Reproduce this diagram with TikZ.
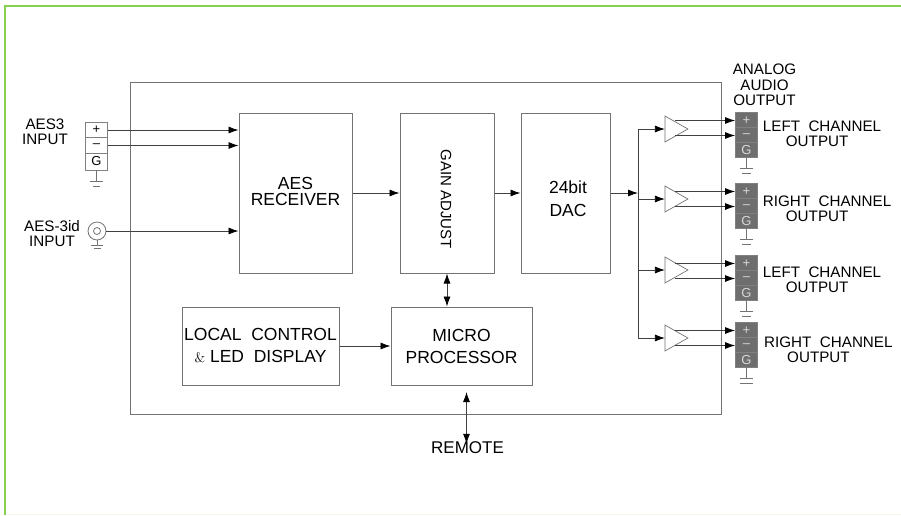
\documentclass[tikz,border=0pt]{standalone}
\usepackage{fontspec}
\setmainfont{Liberation Sans}
\usetikzlibrary{arrows.meta,shapes.geometric}
\definecolor{framegreen}{HTML}{86CF50}
\definecolor{termgray}{HTML}{6E6E6E}
\tikzset{
	blockbox/.style={draw=black!55,line width=1pt,minimum width=#1,inner sep=0pt,align=center},
	cell/.style={draw=black!50,line width=0.9pt,minimum width=22pt,minimum height=15.5pt,inner sep=0pt,font=\fontsize{13}{13}\selectfont},
	outcell/.style={cell,fill=termgray,text=white!85!black},
	amp/.style={draw=black!55,fill=white,line width=0.7pt,isosceles triangle,isosceles triangle apex angle=59,minimum height=23pt,minimum width=26pt,inner sep=0pt,outer sep=0pt},
	conn/.style={draw=black!75,line width=0.8pt},
	arr/.style={conn,-{Latex[length=10pt,width=7pt,black]}},
	biarr/.style={conn,{Latex[length=10pt,width=7pt,black]}-{Latex[length=10pt,width=7pt,black]}},
	gnd/.style={draw=black!55,line width=0.8pt},
	lbl/.style={inner sep=0pt,align=center,font=\fontsize{15.2}{15}\selectfont},
	blocklbl/.style={inner sep=0pt,align=center,font=\fontsize{17.5}{22}\selectfont}
}
\begin{document}
\begin{tikzpicture}[x=1pt,y=-1pt]
	\useasboundingbox (0,0) rectangle (901,515);
	\draw[framegreen,line width=2pt] (4.5,515)--(4.5,5.5)--(901,5.5);
	\draw[framegreen!12,line width=1pt] (5.5,514.5)--(901,514.5);
	\draw[black!55,line width=1pt] (130,82) rectangle (721,414);
	% blocks
	\node[blockbox=113pt,minimum height=160pt] (receiver) at (295.5,193) {};
	\node[blocklbl,font=\fontsize{17.5}{16.5}\selectfont] (receivertxt) at (295.5,191.5) {AES\\RECEIVER};
	\node[blockbox=94pt,minimum height=160pt] (gain) at (447,193) {};
	\node[font=\fontsize{15}{15}\selectfont,rotate=-90,inner sep=0pt] (gaintxt) at (446,199) {GAIN ADJUST};
	\node[blockbox=89pt,minimum height=160pt] (dac) at (565.5,193) {};
	\node[blocklbl,font=\fontsize{17.5}{23}\selectfont] (dactxt) at (568,199) {24bit\\DAC};
	\node[blockbox=157pt,minimum height=78pt,blocklbl] (local) at (260.5,346) {LOCAL\ \ CONTROL\\{\fontfamily{lmr}\selectfont\fontsize{14}{22}\selectfont\&}\ LED\ \ DISPLAY};
	\node[blockbox=141pt,minimum height=78pt,blocklbl] (micro) at (461.5,346) {MICRO\\PROCESSOR};
	% input terminals
	\node[cell] (inp) at (96.5,130) {+};
	\node[cell] (inm) at (96.5,145.5) {--};
	\node[cell,minimum height=17pt] (ing) at (96.5,161.5) {G};
	\draw[gnd] (ing.south)--++(0,11) (89.5,181)--(103,181) (93,186)--(100,186);
	\node[circle,draw=black!55,line width=0.8pt,minimum size=18pt,inner sep=0pt] (coax) at (97,231) {};
	\node[circle,draw=black!55,line width=0.8pt,minimum size=7pt,inner sep=0pt] (coaxin) at (97,231) {};
	\draw[gnd] (coax.south)--(97,245) (91,245)--(103,245) (93.5,248.5)--(100.5,248.5);
	\node[lbl] (aeslbl) at (45,131.5) {AES3\\INPUT};
	\node[lbl] (coaxlbl) at (52,233.5) {AES-3id\\INPUT};
	% signal path
	\coordinate (recp) at (receiver.west |- inp.east);
	\coordinate (recm) at (receiver.west |- inm.east);
	\coordinate (recc) at (receiver.west |- coax.east);
	\draw[arr] (inp.east)--(recp);
	\draw[arr] (inm.east)--(recm);
	\draw[arr] (coax.east)--(recc);
	\draw[arr] (receiver.east)--(gain.west);
	\draw[arr] (gain.east)--(dac.west);
	\draw[biarr] (gain.south)--(gain.south |- micro.north);
	\draw[arr] (local.east)--(micro.west);
	\coordinate (remtop) at (466.5,392);
	\node[inner sep=0pt,font=\fontsize{17}{20}\selectfont] (remote) at (467.5,448) {REMOTE};
	\draw[biarr] (remtop)--([yshift=-2pt]remote.north -| remtop);
	% output channels
	\coordinate (busin) at (638,193);
	\draw[arr] (dac.east)--(busin);
	\foreach \i/\y/\ty/\b in {1/129/113/4.5,2/199/184/4.5,3/270/256/4.5,4/338/323/6.5}{
		\node[amp] (amp\i) at (672.5,\y) {};
		\node[outcell] (term\i p) at (746.5,\ty+7.5) {+};
		\node[outcell] (term\i m) at (746.5,\ty+22.5) {--};
		\node[outcell] (term\i g) at (746.5,\ty+37) {G};
		\draw[arr] (busin |- amp\i.west)--(amp\i.west);
		\draw[arr] ([xshift=10pt]amp\i.west |- term\i p.west)--(term\i p.west);
		\draw[arr] ([xshift=10pt]amp\i.west |- term\i m.west)--(term\i m.west);
		\draw[gnd] (term\i g.south)--++(0,10) ++(-6.5,0)--++(13,0) ++(-6.5-\b,5)--++(2*\b,0);
	}
	\draw[conn] (amp1.west -| busin)--(amp4.west -| busin);
	% labels
	\node[lbl,font=\fontsize{15.2}{15.7}\selectfont] (audio) at (764.5,85) {ANALOG\\AUDIO\\OUTPUT};
	\foreach \n/\t/\x/\y in {left1/LEFT/762.7/134,right1/RIGHT/762.7/208.5,left2/LEFT/762.7/280,right2/RIGHT/764/349.5}
		\node[lbl,align=left,anchor=west] (\n) at (\x,\y) {\t\ \ CHANNEL\\\hspace*{23pt}OUTPUT};
\end{tikzpicture}
\end{document}
